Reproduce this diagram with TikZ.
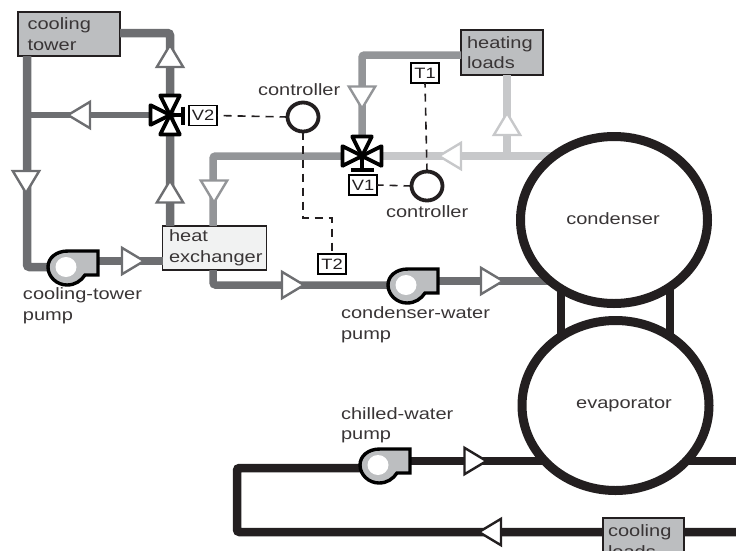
\documentclass[tikz,border=0pt]{standalone}
\usepackage{fontspec}
\setmainfont[FakeStretch=1.22]{Liberation Sans}
\definecolor{pipeDark}{HTML}{6D6E71}
\definecolor{pipeMid}{HTML}{939598}
\definecolor{pipeLight}{HTML}{C7C8CA}
\definecolor{ink}{HTML}{231F20}
\definecolor{boxGray}{HTML}{BCBEC0}
\definecolor{boxLight}{HTML}{F1F2F2}
\tikzset{
  txt/.style={font=\fontsize{16.4}{20.5}\selectfont,text=ink!90!white,inner sep=0pt,outer sep=0pt},
  lbl/.style={txt,anchor=west,align=left},
  pipe/.style={line width=8.5pt,rounded corners=2.5pt},
  equip/.style={txt,draw=ink,line width=1.3pt,rectangle,inner sep=0pt,outer sep=0pt},
  tagbox/.style={draw=black,fill=white,line width=1.2pt,rectangle,minimum width=28pt,minimum height=20pt,inner sep=0pt,outer sep=0pt,font=\fontsize{15}{15}\selectfont,text=ink},
  ctl/.style={ellipse,draw=ink,fill=white,line width=3.8pt,minimum width=31pt,minimum height=29pt,inner sep=0pt,outer sep=0pt},
  vessel/.style={ellipse,draw=ink,fill=white,line width=9pt,inner sep=0pt,outer sep=0pt,minimum width=187pt,minimum height=167pt},
  signal/.style={draw=ink,line width=1.6pt,dash pattern=on 8pt off 6pt},
}
\usetikzlibrary{shapes.geometric}
\newcommand{\flowarrow}[4]{\begin{scope}[shift={(#1,#2)},rotate=#3]
  \draw[#4,fill=white,line width=2.4pt,miter limit=10] (-11.5,-13.2) -- (10.5,0) -- (-11.5,13.2) -- cycle;
\end{scope}}
\newcommand{\pumpbody}[2]{\begin{scope}[shift={(#1,#2)}]
  \draw[draw=black,fill=boxGray,line width=3.4pt,line join=miter]
    (31,-16) -- (1,-16) .. controls (-11,-16) and (-19,-9) .. (-19,0)
    .. controls (-19,10) and (-10,18) .. (0,18)
    .. controls (8,18) and (14,14) .. (18,8) -- (31,8) -- cycle;
  \fill[white] (-1,0) ellipse [x radius=10.5pt,y radius=10pt];
\end{scope}}
\newcommand{\valvetri}[3]{\begin{scope}[shift={(#1,#2)},rotate=#3]
  \draw[black,fill=white,line width=3.8pt,line join=round] (0,0) -- (19.5,-9.8) -- (19.5,9.8) -- cycle;
\end{scope}}
\begin{document}
\begin{tikzpicture}[x=1pt,y=-1pt]
\useasboundingbox (0,0) rectangle (736,550);
\clip (0,0) rectangle (736,550);
% anchor points
\coordinate (vTwo) at (170,115);
\coordinate (vOne) at (362,156);
\coordinate (pumpA) at (67,267);
\coordinate (pumpB) at (407,285);
\coordinate (pumpC) at (379,465);
\coordinate (tR) at (170,33);
\coordinate (tL) at (27,267);
\coordinate (bTee) at (27,115);
\coordinate (hTop) at (213,156);
\coordinate (hBot) at (213,285);
\coordinate (hlC) at (362,55);
\coordinate (lTee) at (507,156);
\coordinate (cwL1) at (237,468);
\coordinate (cwL2) at (237,532);
\coordinate (cwE1) at (736,461);
\coordinate (cwE2) at (736,532);
% equipment
\node[equip,fill=boxGray,minimum width=102pt,minimum height=44pt,text width=83pt,align=left] (tower) at (69,34) {cooling\\tower};
\node[equip,fill=boxLight,minimum width=104pt,minimum height=44pt,text width=91pt,align=left] (hx) at (214.5,248) {heat\\exchanger};
\node[equip,fill=boxGray,minimum width=82pt,minimum height=45pt,text width=70pt,align=left] (hl) at (502,52.5) {heating\\loads};
% pipes
\draw[pipe,pipeDark] (tower.east |- 0,33) -- (tR) -- (hx.north -| tR);
\draw[pipe,pipeDark] (tower.south -| tL) -- (tL) -- (pumpA);
\draw[pipeDark,line width=6pt] (vTwo) -- (bTee);
\draw[pipeDark,line width=8pt] (pumpA |- 0,261) -- (hx.west |- 0,261);
\draw[pipe,pipeMid,line width=7.5pt] (hx.north -| hTop) -- (hTop) -- (vOne);
\draw[pipe,pipeDark,line width=7.5pt] (hx.south -| hBot) -- (hBot) -- (pumpB);
\draw[pipeDark,line width=7.5pt] (pumpB |- 0,281) -- (560,281);
\draw[pipe,pipeMid,line width=7.5pt] (hl.west |- 0,55) -- (hlC) -- (vOne);
\draw[pipeLight,line width=7.5pt] (vOne) -- (560,156);
\draw[pipeLight,line width=8pt] (hl.south -| lTee) -- (lTee);
\draw[pipe,ink] (pumpC |- cwL1) -- (cwL1) -- (cwL2) -- (cwE2);
\draw[ink,line width=8pt] (pumpC |- 0,461) -- (cwE1);
% shell links
\draw[ink,line width=8pt] (561,285) -- (561,345);
\draw[ink,line width=8pt] (670,285) -- (670,345);
% vessels
\node[vessel] (cond) at (614,220) {};
\node[vessel,minimum height=170pt] (evap) at (615.5,405.5) {};
\node[txt] (condL) at (613,219) {condenser};
\node[txt] (evapL) at (624,405) {evaporator};
% cooling loads (over the pipe)
\node[equip,fill=boxGray,minimum width=81pt,minimum height=46pt,text width=71pt,align=left] (cl) at (643.5,541) {cooling\\loads};
% flow arrows
\flowarrow{170}{55.5}{90}{pipeDark}
\flowarrow{170}{191}{90}{pipeDark}
\flowarrow{78.5}{115}{180}{pipeDark}
\flowarrow{26}{182.5}{270}{pipeDark}
\flowarrow{133.5}{261}{0}{pipeDark}
\flowarrow{214}{192}{270}{pipeMid}
\flowarrow{293.5}{285}{0}{pipeDark}
\flowarrow{492.5}{281}{0}{pipeDark}
\flowarrow{362}{98}{270}{pipeMid}
\flowarrow{507}{123.5}{90}{pipeLight}
\flowarrow{449.5}{156}{180}{pipeLight}
\flowarrow{476}{461}{0}{ink}
\flowarrow{489.5}{532}{180}{ink}
% pumps
\pumpbody{67}{267}
\pumpbody{407}{285}
\pumpbody{379}{465}
% signal lines
\node[tagbox] (tagVtwo) at (203,115.5) {V2};
\node[tagbox] (tagVone) at (363,185) {V1};
\node[tagbox] (tagTone) at (425,73) {T1};
\node[tagbox] (tagTtwo) at (332,264) {T2};
\node[ctl] (ctlA) at (303,117) {};
\node[ctl] (ctlB) at (427,186) {};
\coordinate (kneeA) at (303,218);
\coordinate (kneeB) at (332,218);
\draw[signal] (ctlA.west) -- (tagVtwo.east);
\draw[signal] (ctlA.south) -- (kneeA) -- (kneeB) -- (tagTtwo.north);
\draw[signal] (ctlB.west) -- (tagVone.east);
\draw[signal] (ctlB.north) -- (tagTone.south);
% valves
\draw[black,line width=3.4pt] (vTwo) -- (183,115);
\draw[black,line width=3.4pt] (183,106.5) -- (183,125);
\valvetri{170}{115}{90}
\valvetri{170}{115}{270}
\valvetri{170}{115}{180}
\draw[black,line width=3.4pt] (vOne) -- (362,170);
\draw[black,line width=3.4pt] (351,170) -- (374,170);
\valvetri{362}{156}{90}
\valvetri{362}{156}{0}
\valvetri{362}{156}{180}
% labels
\node[lbl] (lblA) at (258,90) {controller};
\node[lbl] (lblB) at (386,212) {controller};
\node[lbl] (lblC) at (23,306) {cooling-tower\\pump};
\node[lbl] (lblD) at (341,325) {condenser-water\\pump};
\node[lbl] (lblE) at (341,425) {chilled-water\\pump};
\end{tikzpicture}
\end{document}
